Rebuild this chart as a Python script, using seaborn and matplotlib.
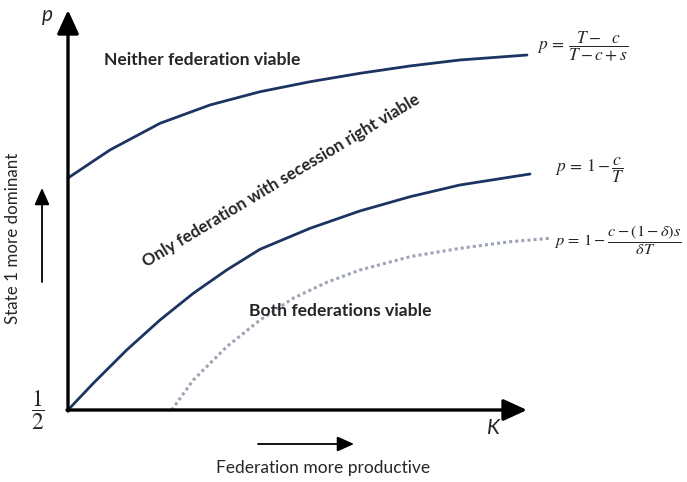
import matplotlib
matplotlib.use("Agg")
import matplotlib.pyplot as plt
import seaborn as sns
import pandas as pd

# curve values (K on x, p on y)
k_upper = [0, 0.933, 2.044, 3.156, 4.267, 5.378, 6.489, 7.6, 8.711, 10.2]
p_upper = [0.8135, 0.8514, 0.8874, 0.9122, 0.9301, 0.9436, 0.955, 0.9649, 0.973, 0.9797]

k_middle = [0, 0.562, 1.304, 2.044, 2.784, 3.527, 4.267, 5.378, 6.489, 7.6, 8.711, 10.267]
p_middle = [0.5, 0.5361, 0.5811, 0.6216, 0.6577, 0.6892, 0.7172, 0.7455, 0.769, 0.7882, 0.8041, 0.8189]

k_dotted = [2.304, 2.784, 3.527, 4.267, 5.007, 5.749, 6.489, 7.6, 8.711, 9.822, 10.711]
p_dotted = [0.5, 0.5405, 0.5855, 0.6216, 0.6511, 0.6725, 0.6892, 0.7072, 0.7185, 0.7274, 0.732]

region_labels = ["Neither federation viable",
                 "Only federation with secession right viable",
                 "Both federations viable"]
formulas = [r"$p\,=\,\dfrac{T-\ \ c}{T-c+s}$",
            r"$p\,=\,1-\dfrac{c}{T}$",
            r"$p\,=\,1-\dfrac{c-(1-\delta)s}{\delta T}$"]

sns.set_style("white")
plt.rcParams["font.family"] = ["Lato", "DejaVu Sans"]
plt.rcParams["mathtext.fontset"] = "stix"

navy = "#1c3461"
dots = "#9ca4b6"

fig = plt.figure(figsize=(6.87, 4.82), dpi=100)
ax = fig.add_axes([0, 0, 1, 1])

# pixel -> data helper for placing the layout
X0, Y0, KPX, PPX = 68, 410, 45.0, 740.0
def pos(x, y):
    return (x - X0) / KPX, 0.5 + (Y0 - y) / PPX

ax.set_xlim(pos(0, 0)[0], pos(687, 0)[0])
ax.set_ylim(pos(0, 482)[1], pos(0, 0)[1])
ax.axis("off")

upper = pd.DataFrame({"K": k_upper, "p": p_upper})
middle = pd.DataFrame({"K": k_middle, "p": p_middle})
dotted = pd.DataFrame({"K": k_dotted, "p": p_dotted})

sns.lineplot(data=upper, x="K", y="p", color=navy, lw=2.0, ax=ax)
sns.lineplot(data=middle, x="K", y="p", color=navy, lw=2.0, ax=ax)
sns.lineplot(data=dotted, x="K", y="p", color=dots, lw=2.2,
             linestyle=(0, (1, 1)), ax=ax)

# axes arrows
big = dict(arrowstyle="-|>,head_length=1.2,head_width=0.55", lw=2.4,
           color="black", shrinkA=0, shrinkB=0, mutation_scale=12)
ax.annotate("", xy=pos(68, 10), xytext=pos(68, 411), arrowprops=big)
ax.annotate("", xy=pos(527, 410), xytext=pos(67, 410), arrowprops=big)

small = dict(arrowstyle="-|>,head_length=0.85,head_width=0.38", lw=1.3,
             color="black", shrinkA=0, shrinkB=0, mutation_scale=12)
ax.annotate("", xy=pos(42, 188), xytext=pos(42, 282), arrowprops=small)
ax.annotate("", xy=pos(354, 444), xytext=pos(258, 444), arrowprops=small)

# axis texts
ax.text(*pos(47, 15), "p", fontsize=15, style="italic", ha="center", va="center")
ax.text(*pos(493, 428), "K", fontsize=15, style="italic", ha="center", va="center")
ax.text(*pos(38, 410), r"$\dfrac{1}{2}$", fontsize=17, ha="center", va="center")
ax.text(*pos(13, 238), "State 1 more dominant", fontsize=12.2, rotation=90,
        ha="center", va="center")
ax.text(*pos(323, 468), "Federation more productive", fontsize=12.5,
        ha="center", va="center")

# region labels
ax.text(*pos(202, 60), region_labels[0], fontsize=12.6, fontweight="bold",
        ha="center", va="center")
ax.text(*pos(281, 181), region_labels[1], fontsize=12.2, fontweight="bold",
        rotation=31, ha="center", va="center", rotation_mode="anchor")
ax.text(*pos(340, 311), region_labels[2], fontsize=12.6, fontweight="bold",
        ha="center", va="center")

# formulas
ax.text(*pos(537, 46), formulas[0], fontsize=12.5, ha="left", va="center")
ax.text(*pos(555, 170), formulas[1], fontsize=12.5, ha="left", va="center")
ax.text(*pos(554, 240), formulas[2], fontsize=11.8, ha="left", va="center")

fig.savefig("out.png", dpi=100)
